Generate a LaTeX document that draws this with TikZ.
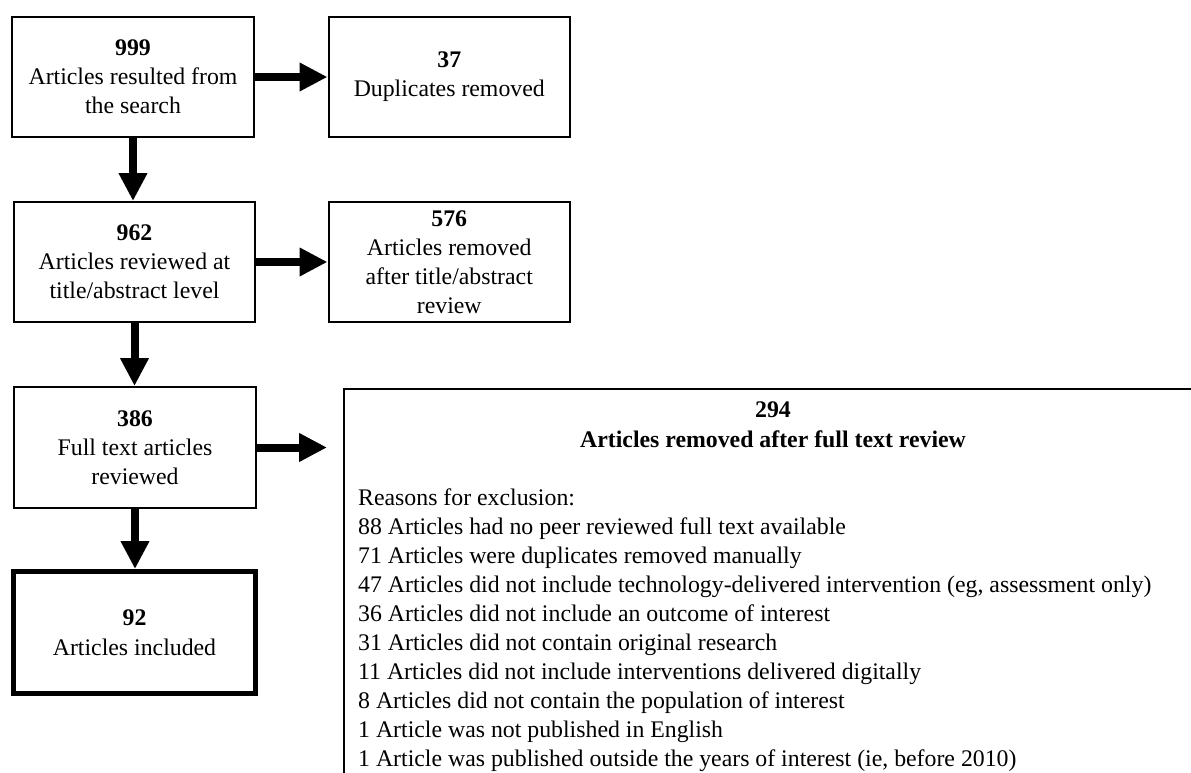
\documentclass[tikz,border=0pt]{standalone}
\usepackage{fontspec}
\setmainfont{Liberation Serif}
\usetikzlibrary{arrows.meta}
\begin{document}
\begin{tikzpicture}[x=1pt,y=-1pt,
  box/.style={draw, line width=2pt, inner sep=0pt, align=center,
    font=\fontsize{23.8}{29}\selectfont},
  flow/.style={line width=8pt, -{Triangle[width=27pt,length=28pt]}},
  bigtext/.style={inner sep=0pt, font=\fontsize{23.8}{29}\selectfont}]
\fill[white] (0,0) rectangle (1191,773);
\useasboundingbox (0,0) rectangle (1191,773);
% left column
\node[box, minimum width=242pt, minimum height=120pt] (b1) at (133,77)
  {\textbf{999}\\Articles resulted from\\the search};
\node[box, minimum width=241pt, minimum height=120pt] (b3) at (134.5,262)
  {\textbf{962}\\Articles reviewed at\\title/abstract level};
\node[box, minimum width=242pt, minimum height=121pt] (b5) at (135,447.5)
  {\textbf{386}\\Full text articles\\reviewed};
\node[box, line width=5pt, minimum width=242pt, minimum height=122pt,
  font=\fontsize{23.8}{30}\selectfont] (b7) at (134.5,632.5)
  {\textbf{92}\\Articles included};
% right column
\node[box, minimum width=241.5pt, minimum height=120pt] (b2) at (449.25,77)
  {\textbf{37}\\Duplicates removed};
\node[box, minimum width=241.5pt, minimum height=120pt] (b4) at (449.25,262)
  {\textbf{576}\\Articles removed\\after title/abstract\\review};
\node[draw, line width=2pt, inner sep=0pt, minimum width=858pt, minimum height=510pt] (b6) at (773,644) {};
\node[bigtext, anchor=base, font=\fontsize{23.8}{29}\selectfont\bfseries] (n294) at (773,417) {294};
\node[bigtext, anchor=base, font=\fontsize{23.8}{29}\selectfont\bfseries] (head) at (773,447) {Articles removed after full text review};
\node[bigtext, anchor=base west] (reasons) at (358,505) {\begin{tabular}[t]{@{}l@{}}
Reasons for exclusion:\\
88 Articles had no peer reviewed full text available\\
71 Articles were duplicates removed manually\\
47 Articles did not include technology-delivered intervention (eg, assessment only)\\
36 Articles did not include an outcome of interest\\
31 Articles did not contain original research\\
11 Articles did not include interventions delivered digitally\\
8 Articles did not contain the population of interest\\
1 Article was not published in English\\
1 Article was published outside the years of interest (ie, before 2010)
\end{tabular}};
% connectors
\draw[flow] (b1.east) -- (b2.west);
\draw[flow] (b3.east) -- (b4.west);
\draw[flow, shorten >=16pt] (b5.east) -- (b5.east -| b6.west);
\draw[flow] (b1.south) -- (b1.south |- b3.north);
\draw[flow] (b3.south) -- (b3.south |- b5.north);
\draw[flow] (b5.south) -- (b5.south |- b7.north);
\end{tikzpicture}
\end{document}
